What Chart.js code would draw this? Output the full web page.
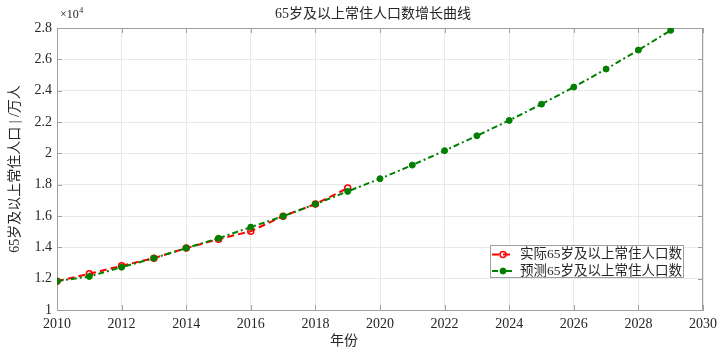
<!DOCTYPE html>
<html><head><meta charset="utf-8">
<script src="https://cdn.jsdelivr.net/npm/chart.js@4"></script>
<style>html,body{margin:0;padding:0;background:#fff}#wrap{width:723px;height:350px;position:relative}</style>
</head><body><div id="wrap"><canvas id="c" width="723" height="350"></canvas></div>
<script>
const titleText = '65岁及以上常住人口数增长曲线';
const xTitle = '年份';
const yTitle = '65岁及以上常住人口 | /万人';
const actualLabel = '实际65岁及以上常住人口数';
const predLabel = '预测65岁及以上常住人口数';
const actualYears = [2010,2011,2012,2013,2014,2015,2016,2017,2018,2019];
const actualValues = [11840,12310,12820,13310,13950,14520,15030,15990,16760,17780];
const predYears = [2010,2011,2012,2013,2014,2015,2016,2017,2018,2019,2020,2021,2022,2023,2024,2025,2026,2027,2028,2029];
const predValues = [11840,12140,12730,13310,13950,14580,15290,15990,16760,17570,18380,19250,20170,21120,22100,23140,24230,25380,26590,27850];
const xTicks = [2010,2012,2014,2016,2018,2020,2022,2024,2026,2028,2030];
const yTicks = [10000,12000,14000,16000,18000,20000,22000,24000,26000,28000];

const FONT = '"Liberation Serif", "Noto Sans CJK SC", serif';
const AXIS = '#a0a0a0';
const GRID = '#e9e9e9';
const TXT = '#262626';
const RED = '#ff0000';
const GREEN = '#008000';

const deco = {
  id: 'deco',
  beforeDatasetsDraw(chart) {
    const {ctx, chartArea: a, scales: {x, y}} = chart;
    ctx.save();
    ctx.strokeStyle = AXIS; ctx.lineWidth = 1;
    ctx.beginPath();
    ctx.moveTo(a.left, a.top + 0.5); ctx.lineTo(a.right, a.top + 0.5);
    ctx.moveTo(a.right - 0.5, a.top); ctx.lineTo(a.right - 0.5, a.bottom);
    const tl = 5;
    xTicks.forEach(v => {
      const px = Math.round(x.getPixelForValue(v)) + 0.5;
      ctx.moveTo(px, a.bottom); ctx.lineTo(px, a.bottom - tl);
      ctx.moveTo(px, a.top); ctx.lineTo(px, a.top + tl);
    });
    yTicks.forEach(v => {
      const py = Math.round(y.getPixelForValue(v)) + 0.5;
      ctx.moveTo(a.left, py); ctx.lineTo(a.left + tl, py);
      ctx.moveTo(a.right, py); ctx.lineTo(a.right - tl, py);
    });
    ctx.stroke();
    ctx.restore();
  },
  afterDraw(chart) {
    const {ctx, chartArea: a} = chart;
    ctx.save();
    ctx.fillStyle = TXT;
    ctx.textBaseline = 'middle';
    ctx.font = '14px ' + FONT;
    ctx.textAlign = 'center';
    ctx.fillText(titleText, (a.left + a.right) / 2 - 7, 14);
    ctx.fillText(xTitle, (a.left + a.right) / 2 - 36, 341);
    ctx.save();
    ctx.translate(15, (a.top + a.bottom) / 2);
    ctx.rotate(-Math.PI / 2);
    ctx.fillText(yTitle, 0, 0);
    ctx.restore();
    ctx.textAlign = 'left';
    ctx.font = '12px ' + FONT;
    ctx.fillText('×10', a.left + 3, 15);
    const w = ctx.measureText('×10').width;
    ctx.font = '8px ' + FONT;
    ctx.fillText('4', a.left + 3 + w + 0.5, 11);
    const lx = a.right - 213, ly = a.bottom - 65, lw = 193, lh = 32;
    ctx.fillStyle = '#fff';
    ctx.fillRect(lx, ly, lw, lh);
    ctx.strokeStyle = AXIS; ctx.lineWidth = 1;
    ctx.strokeRect(lx + 0.5, ly + 0.5, lw, lh);
    const ds = chart.data.datasets;
    [ds[0], ds[1]].forEach((d, i) => {
      const cy = ly + 9.5 + i * 16.5;
      ctx.strokeStyle = d.borderColor; ctx.lineWidth = 2;
      ctx.setLineDash(d.borderDash);
      ctx.beginPath(); ctx.moveTo(lx + 2, cy); ctx.lineTo(lx + 24, cy); ctx.stroke();
      ctx.setLineDash([]);
      ctx.beginPath(); ctx.arc(lx + 13, cy, d.pointRadius, 0, Math.PI * 2);
      ctx.fillStyle = d.pointBackgroundColor; ctx.fill();
      ctx.lineWidth = d.pointBorderWidth; ctx.strokeStyle = d.pointBorderColor; ctx.stroke();
      ctx.fillStyle = TXT;
      ctx.font = '13.5px ' + FONT;
      ctx.textAlign = 'left';
      ctx.fillText(d.label, lx + 30, cy);
    });
    ctx.restore();
  }
};

new Chart(document.getElementById('c'), {
  type: 'line',
  data: {
    datasets: [
      {
        label: actualLabel,
        data: actualYears.map((yr, i) => ({x: yr, y: actualValues[i]})),
        borderColor: RED, borderWidth: 2, borderDash: [7, 4],
        pointRadius: 3, pointBorderWidth: 1.5,
        pointBorderColor: RED, pointBackgroundColor: 'rgba(255,255,255,0)',
        fill: false, tension: 0, order: 1
      },
      {
        label: predLabel,
        data: predYears.map((yr, i) => ({x: yr, y: predValues[i]})),
        borderColor: GREEN, borderWidth: 2, borderDash: [6, 3, 2, 3],
        pointRadius: 3, pointBorderWidth: 1,
        pointBorderColor: GREEN, pointBackgroundColor: GREEN,
        fill: false, tension: 0, order: 0
      }
    ]
  },
  options: {
    responsive: false, animation: false, devicePixelRatio: 1,
    layout: {padding: {left: 0, right: 14, top: 28, bottom: 0}},
    plugins: {legend: {display: false}, title: {display: false}, tooltip: {enabled: false}},
    scales: {
      x: {
        type: 'linear', min: 2010, max: 2030,
        afterBuildTicks: s => { s.ticks = xTicks.map(v => ({value: v})); },
        afterFit: s => { s.height = 40; },
        grid: {color: GRID, drawTicks: false},
        border: {color: AXIS, width: 1},
        ticks: {color: TXT, font: {family: FONT, size: 14}, padding: 6, maxRotation: 0, autoSkip: false,
                callback: v => String(v)}
      },
      y: {
        type: 'linear', min: 10000, max: 28000,
        afterBuildTicks: s => { s.ticks = yTicks.map(v => ({value: v})); },
        afterFit: s => { s.width = 57; },
        grid: {color: GRID, drawTicks: false},
        border: {color: AXIS, width: 1},
        ticks: {color: TXT, font: {family: FONT, size: 14}, padding: 5,
                callback: v => String(parseFloat((v / 10000).toFixed(1)))}
      }
    }
  },
  plugins: [deco]
});
</script></body></html>
